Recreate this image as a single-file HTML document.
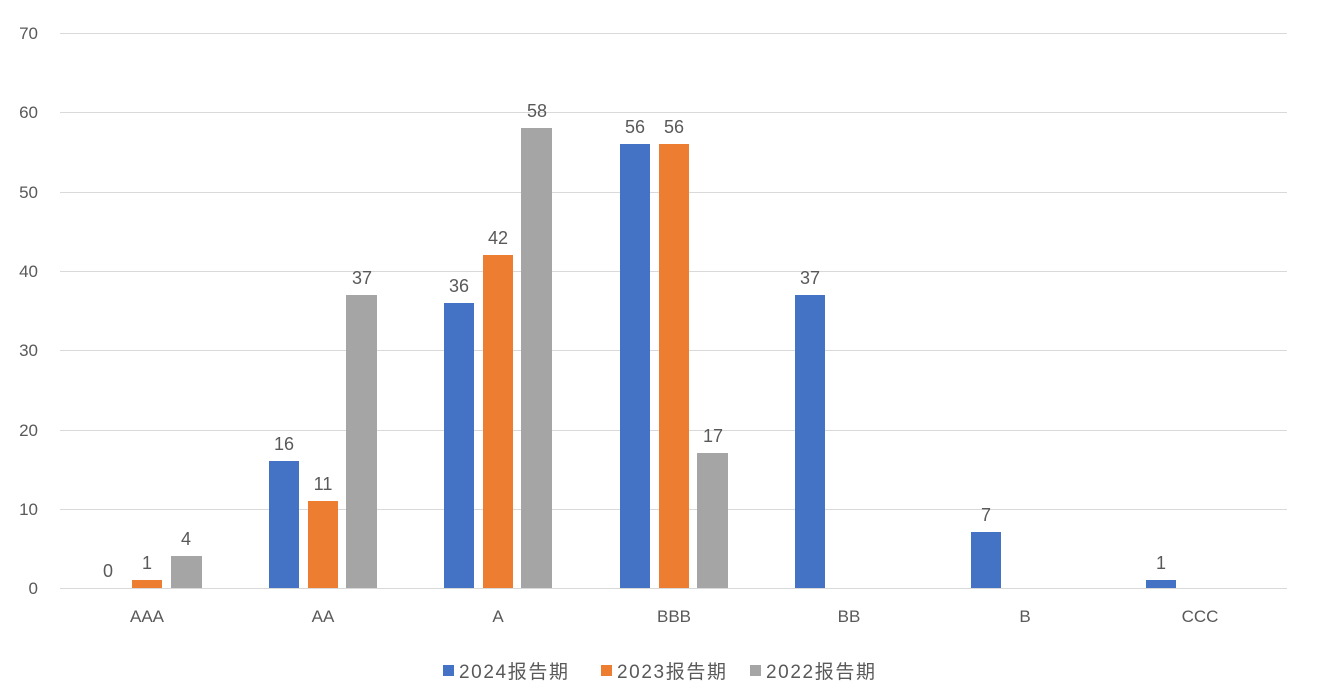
<!DOCTYPE html>
<html><head><meta charset="utf-8"><style>
html,body{margin:0;padding:0;background:#fff;}
svg text{font-family:"Liberation Sans","Noto Sans CJK SC",sans-serif;fill:#595959;}
</style></head><body>
<svg width="1324" height="690" xmlns="http://www.w3.org/2000/svg">
<g stroke="#d9d9d9" stroke-width="1">
<line x1="60" x2="1287" y1="33.5" y2="33.5"/>
<line x1="60" x2="1287" y1="112.5" y2="112.5"/>
<line x1="60" x2="1287" y1="192.5" y2="192.5"/>
<line x1="60" x2="1287" y1="271.5" y2="271.5"/>
<line x1="60" x2="1287" y1="350.5" y2="350.5"/>
<line x1="60" x2="1287" y1="430.5" y2="430.5"/>
<line x1="60" x2="1287" y1="509.5" y2="509.5"/>
<line x1="60" x2="1287" y1="588.5" y2="588.5"/>
</g>
<g font-size="17" text-anchor="end">
<text x="38" y="39">70</text><text x="38" y="118">60</text><text x="38" y="198">50</text>
<text x="38" y="277">40</text><text x="38" y="356">30</text><text x="38" y="436">20</text>
<text x="38" y="515">10</text><text x="38" y="594">0</text>
</g>
<g font-size="17" text-anchor="middle">
<text x="147" y="622">AAA</text><text x="323" y="622">AA</text><text x="498" y="622">A</text>
<text x="674" y="622">BBB</text><text x="849" y="622">BB</text><text x="1025" y="622">B</text><text x="1200" y="622">CCC</text>
</g>
<g>
<rect x="132" y="580" width="30" height="8" fill="#ed7d31"/>
<rect x="171" y="556" width="31" height="32" fill="#a5a5a5"/>
<rect x="269" y="461" width="30" height="127" fill="#4472c4"/>
<rect x="308" y="501" width="30" height="87" fill="#ed7d31"/>
<rect x="346" y="295" width="31" height="293" fill="#a5a5a5"/>
<rect x="444" y="303" width="30" height="285" fill="#4472c4"/>
<rect x="483" y="255" width="30" height="333" fill="#ed7d31"/>
<rect x="521" y="128" width="31" height="460" fill="#a5a5a5"/>
<rect x="620" y="144" width="30" height="444" fill="#4472c4"/>
<rect x="659" y="144" width="30" height="444" fill="#ed7d31"/>
<rect x="697" y="453" width="31" height="135" fill="#a5a5a5"/>
<rect x="795" y="295" width="30" height="293" fill="#4472c4"/>
<rect x="971" y="532" width="30" height="56" fill="#4472c4"/>
<rect x="1146" y="580" width="30" height="8" fill="#4472c4"/>
</g>
<g font-size="18" text-anchor="middle">
<text x="108" y="577">0</text><text x="147" y="569">1</text><text x="186" y="545">4</text>
<text x="284" y="450">16</text><text x="323" y="490">11</text><text x="362" y="284">37</text>
<text x="459" y="292">36</text><text x="498" y="244">42</text><text x="537" y="117">58</text>
<text x="635" y="133">56</text><text x="674" y="133">56</text><text x="713" y="442">17</text>
<text x="810" y="284">37</text><text x="986" y="521">7</text><text x="1161" y="569">1</text>
</g>
<g font-size="19">
<rect x="443" y="665" width="11" height="11" fill="#4472c4"/><text x="459" y="678" textLength="109">2024报告期</text>
<rect x="601" y="665" width="11" height="11" fill="#ed7d31"/><text x="617" y="678" textLength="109">2023报告期</text>
<rect x="750" y="665" width="11" height="11" fill="#a5a5a5"/><text x="766" y="678" textLength="109">2022报告期</text>
</g>
</svg>
</body></html>
